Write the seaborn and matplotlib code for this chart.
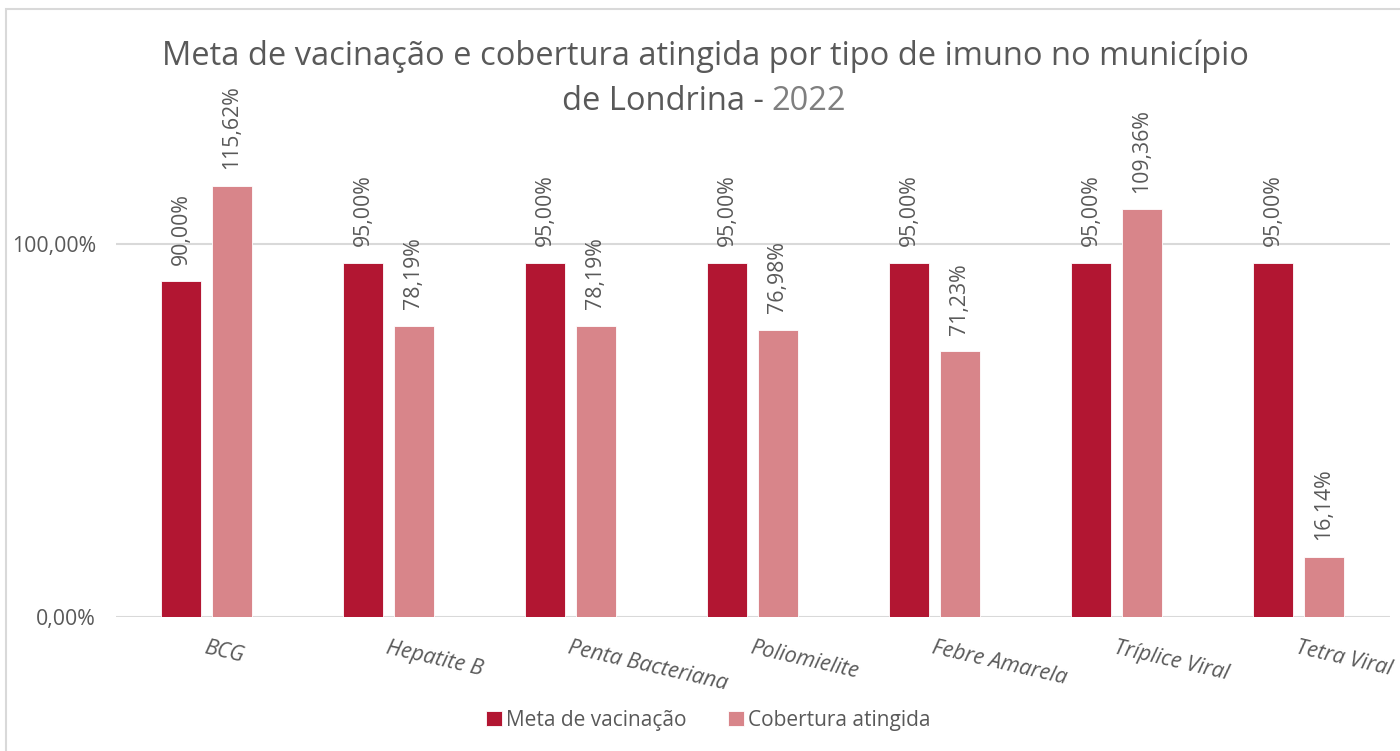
import matplotlib
matplotlib.use("Agg")
import matplotlib.pyplot as plt
from matplotlib.patches import Rectangle
import seaborn as sns
import pandas as pd

imunos = ["BCG", "Hepatite B", "Penta Bacteriana", "Poliomielite",
          "Febre Amarela", "Tríplice Viral", "Tetra Viral"]
meta = [90.00, 95.00, 95.00, 95.00, 95.00, 95.00, 95.00]
cobertura = [115.62, 78.19, 78.19, 76.98, 71.23, 109.36, 16.14]
series = ["Meta de vacinação", "Cobertura atingida"]
colors = ["#B21632", "#D8858A"]

df = pd.DataFrame({
    "imuno": imunos * 2,
    "valor": meta + cobertura,
    "serie": [series[0]] * len(imunos) + [series[1]] * len(imunos),
})

sns.set_style("white")
plt.rcParams["font.family"] = ["Open Sans", "DejaVu Sans"]
txt = "#595959"

fig = plt.figure(figsize=(14, 7.51), dpi=100)
ax = fig.add_axes([0.0825, 0.1784, 0.91, 0.695])
sns.barplot(data=df, x="imuno", y="valor", hue="serie", palette=colors, saturation=1,
            width=0.56, gap=0.21, edgecolor="white", linewidth=0.6, ax=ax)

for c in ax.containers:
    labels = [f"{v:.2f}%".replace(".", ",") for v in c.datavalues]
    ax.bar_label(c, labels=labels, rotation=90, padding=12, fontsize=15.3, color=txt)

ax.set_ylim(0, 140)
ax.set_xlim(-0.5, len(imunos) - 0.5)
ax.set_yticks([0, 100])
ax.set_yticklabels(["0,00%", "100,00%"], fontsize=15.3, color=txt)
ax.set_xticks(range(len(imunos)))
ax.set_xticklabels(imunos, rotation=-13, ha="left", rotation_mode="anchor",
                   fontstyle="italic", fontsize=15.5, color=txt)
ax.tick_params(axis="both", length=0)
ax.tick_params(axis="y", pad=14)
ax.tick_params(axis="x", pad=15)
ax.yaxis.grid(True, color="#D9D9D9", lw=1.5)
ax.set_axisbelow(True)
for s in ax.spines.values():
    s.set_visible(False)
ax.set_xlabel("")
ax.set_ylabel("")

handles, lbls = ax.get_legend_handles_labels()
ax.legend_.remove()
fig.legend(handles, lbls, loc="center", bbox_to_anchor=(0.506, 0.041), ncol=2,
           frameon=False, fontsize=15, labelcolor=txt, handlelength=0.75,
           handleheight=0.75, handletextpad=0.2, columnspacing=2.0)

# title, with the year in a lighter grey
fig.text(0.5036, 1 - 65 / 751, "Meta de vacinação e cobertura atingida por tipo de imuno no município",
         ha="center", va="baseline", fontsize=23.5, color=txt)
fig.canvas.draw()
r = fig.canvas.get_renderer()
t1 = fig.text(0, 1 - 110 / 751, "de Londrina -", ha="left", va="baseline", fontsize=23.5, color=txt)
t2 = fig.text(0, 1 - 110 / 751, "2022", ha="left", va="baseline", fontsize=23.5, color="#7F7F7F")
w1 = t1.get_window_extent(r).width
w2 = t2.get_window_extent(r).width
space = 8
x0 = 704 - (w1 + space + w2) / 2
t1.set_x(x0 / 1400)
t2.set_x((x0 + w1 + space) / 1400)

fig.add_artist(Rectangle((6 / 1400, -0.1), 1.2, 1.1 - 9 / 751, transform=fig.transFigure,
                         fill=False, ec="#D9D9D9", lw=1.5, clip_on=False))

fig.savefig("out.png", dpi=100)
